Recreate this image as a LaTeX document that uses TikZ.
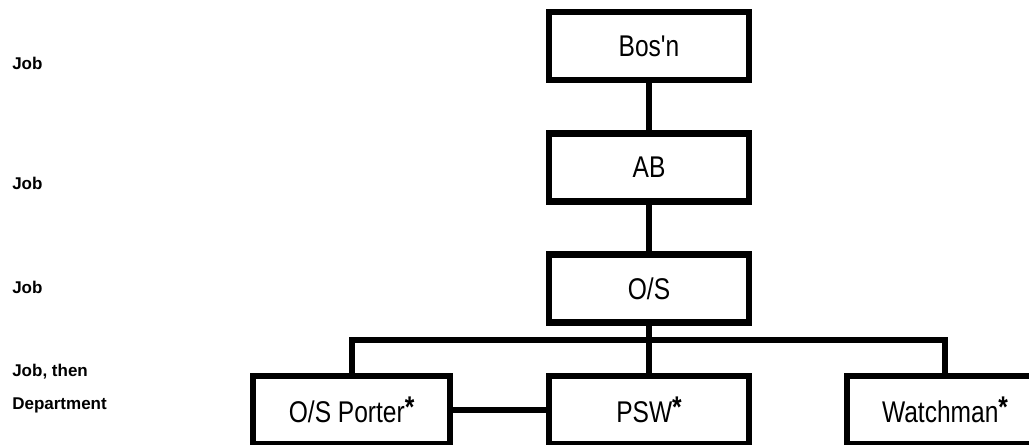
\documentclass[tikz,border=0pt]{standalone}
\usepackage{fontspec}
\setmainfont{Liberation Sans}
\newfontfamily\narrowfont{Liberation Sans}[FakeStretch=0.82]
\usepackage{tikz}
\newcommand{\astk}{\raisebox{0.15em}{\bfseries *}}

\begin{document}
\begin{tikzpicture}[
    job/.style={draw,line width=4.3pt,minimum width=5cm,minimum height=1.7cm,
                inner sep=0pt,font=\narrowfont\fontsize{21.3}{24}\selectfont},
    link/.style={line width=4.3pt},
    level/.style={anchor=west,inner sep=0pt,font=\fontsize{12.1}{14}\selectfont\bfseries}]
\useasboundingbox (0,0) rectangle (25.725,11.125);
% job boxes
\node[job] (bosn) at (16.225,9.975) {Bos'n};
\node[job] (ab) at (16.225,6.9375) {AB};
\node[job] (os) at (16.225,3.9125) {O/S};
\node[job,minimum width=4.925cm] (porter) at (8.79,0.875) {O/S Porter\astk};
\node[job] (psw) at (16.225,0.875) {PSW\astk};
\node[job,minimum width=4.9cm] (watch) at (23.625,0.875) {Watchman\astk};
% level labels
\node[level] (l1) at (0.3,9.55) {Job};
\node[level] (l2) at (0.3,6.55) {Job};
\node[level] (l3) at (0.3,3.95) {Job};
\node[level] (l4) at (0.3,1.825) {Job, then};
\node[level] (l5) at (0.3,1.0) {Department};
% connectors
\coordinate (bar) at (16.225,2.625);
\draw[link] (bosn) -- (ab);
\draw[link] (ab) -- (os);
\draw[link] (os) -- (psw);
\draw[link] (porter.north) |- (bar) -| (watch.north);
\draw[link] (porter) -- (psw);
\end{tikzpicture}
\end{document}
